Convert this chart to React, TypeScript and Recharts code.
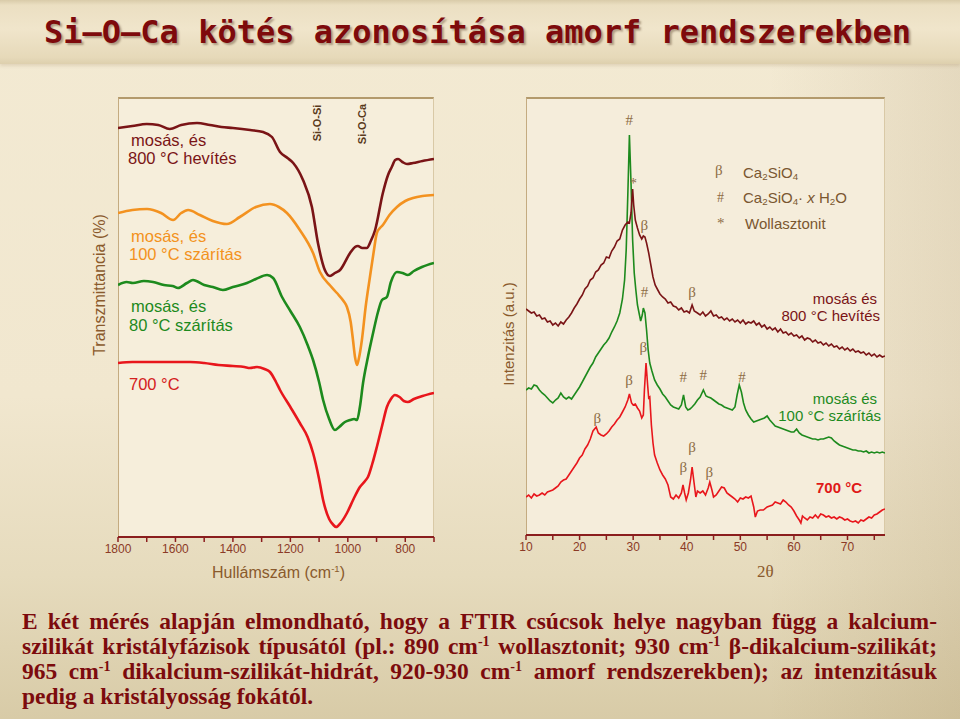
import { LineChart, Line, XAxis, YAxis, ReferenceDot } from 'recharts';

// FTIR spectra: wavenumber (cm-1) vs. transmittance (offset, arbitrary units)
const ftirX = [1800, 1700, 1600, 1500, 1400, 1300, 1200, 1100, 1000, 900, 800, 700];

const ftir800: [number, number][] = [
  [1800, 409], [1750, 411], [1700, 413], [1660, 412], [1620, 408], [1580, 412], [1525, 414],
  [1480, 412], [1440, 410], [1400, 409], [1340, 407], [1295, 405], [1264, 400], [1236, 385],
  [1210, 379], [1190, 374], [1156, 357], [1125, 330], [1104, 294], [1080, 267], [1062, 261],
  [1045, 264], [1027, 267], [992, 284], [975, 290], [965, 291], [950, 289], [934, 289],
  [920, 296], [905, 307], [878, 344], [860, 362], [847, 370], [835, 377], [825, 378],
  [810, 375], [794, 373], [773, 374], [740, 376], [700, 378],
];

const ftir100: [number, number][] = [
  [1800, 324], [1750, 327], [1699, 328], [1650, 324], [1608, 317], [1580, 324], [1556, 327],
  [1515, 322], [1470, 316], [1421, 313], [1376, 320], [1320, 330], [1271, 333], [1240, 330],
  [1212, 324], [1167, 307], [1121, 284], [1097, 265], [1060, 251], [1038, 244], [1015, 236],
  [1003, 230], [990, 215], [982, 197], [975, 180], [968, 172], [962, 178], [951, 197],
  [938, 230], [923, 260], [910, 285], [899, 304], [888, 309], [878, 312], [855, 322],
  [829, 330], [800, 336], [773, 339], [740, 341], [700, 342],
];

const ftir80: [number, number][] = [
  [1800, 252], [1770, 255], [1748, 254], [1710, 256], [1678, 255], [1640, 252], [1610, 251],
  [1591, 249], [1560, 254], [1539, 257], [1500, 252], [1470, 250], [1435, 247], [1400, 250],
  [1351, 254], [1320, 258], [1281, 262], [1260, 259], [1229, 240], [1200, 226], [1167, 210],
  [1140, 192], [1121, 177], [1100, 155], [1086, 137], [1065, 118], [1045, 107], [1030, 110],
  [1010, 115], [992, 117], [978, 118], [968, 117], [958, 130], [947, 154], [930, 180],
  [912, 204], [895, 225], [881, 237], [864, 240], [850, 255], [829, 265], [810, 264],
  [791, 262], [770, 266], [742, 270], [700, 274],
];

const ftir700: [number, number][] = [
  [1800, 174], [1750, 175], [1700, 175], [1650, 175], [1600, 175], [1549, 175], [1500, 174],
  [1450, 172], [1400, 171], [1360, 170], [1341, 169], [1316, 170], [1290, 168], [1271, 165],
  [1250, 155], [1236, 147], [1200, 130], [1167, 114], [1140, 100], [1121, 84], [1100, 58],
  [1086, 37], [1065, 18], [1050, 12], [1041, 10], [1025, 14], [1003, 24], [980, 38],
  [958, 50], [940, 56], [930, 60], [915, 73], [899, 90], [880, 112], [864, 130], [850, 138],
  [836, 142], [820, 140], [805, 136], [791, 135], [770, 138], [740, 141], [700, 144],
];

// XRD patterns: 2theta vs. intensity (offset, arbitrary units)
const xrdX = [10, 15, 20, 25, 30, 35, 40, 45, 50, 55, 60, 65, 70, 75];

const xrd800: [number, number][] = [
  [10, 226], [10.5, 224], [11, 222], [11.5, 223], [12, 219], [12.5, 220], [13, 216], [13.5, 217],
  [14, 213], [14.5, 214], [15, 210], [15.5, 212], [16, 209], [16.5, 213], [17, 211], [17.5, 215],
  [18, 218], [18.5, 222], [19, 227], [19.5, 231], [20, 236], [20.5, 240], [21, 246], [21.5, 249],
  [22, 255], [22.5, 257], [23, 263], [23.5, 265], [24, 270], [24.5, 272], [25, 278], [25.5, 277],
  [26, 284], [26.5, 288], [27, 294], [27.5, 296], [28, 305], [28.5, 310], [29, 313], [29.3, 312],
  [29.6, 322], [29.9, 346], [30.1, 330], [30.4, 315], [30.8, 307], [31.2, 300], [31.6, 296],
  [31.9, 299], [32.2, 298], [32.5, 292], [32.9, 282], [33.3, 270], [33.7, 258], [34.1, 250],
  [34.5, 246], [35, 241], [35.5, 238], [36, 236], [36.5, 232], [37, 233], [37.5, 229], [38, 228],
  [38.5, 225], [39, 227], [39.5, 223], [40, 224], [40.5, 222], [41, 230], [41.4, 224], [42, 222],
  [42.5, 220], [43, 223], [43.5, 219], [44, 221], [44.5, 224], [45, 219], [45.5, 220], [46, 217],
  [46.5, 218], [47, 215], [47.5, 217], [48, 214], [48.5, 216], [49, 213], [49.5, 215], [50, 212],
  [50.5, 215], [51, 211], [51.5, 213], [52, 212], [52.5, 214], [53, 210], [53.5, 212], [54, 208],
  [54.5, 210], [55, 206], [55.5, 208], [56, 205], [56.5, 207], [57, 203], [57.5, 206], [58, 202],
  [58.5, 203], [59, 200], [59.5, 202], [60, 199], [60.5, 200], [61, 197], [61.5, 199], [62, 195],
  [62.5, 197], [63, 196], [63.5, 193], [64, 195], [64.5, 192], [65, 193], [65.5, 190], [66, 192],
  [66.5, 189], [67, 191], [67.5, 188], [68, 189], [68.5, 186], [69, 188], [69.5, 185], [70, 187],
  [70.5, 184], [71, 186], [71.5, 183], [72, 184], [72.5, 182], [73, 183], [73.5, 180], [74, 182],
  [74.5, 179], [75, 181], [75.5, 178], [76, 180], [76.5, 178], [77, 179],
];

const xrd100: [number, number][] = [
  [10, 145], [10.5, 147], [11, 146], [11.5, 150], [12, 149], [12.5, 145], [13, 142], [13.5, 140],
  [14, 137], [14.5, 134], [15, 132], [15.5, 135], [16, 137], [16.5, 142], [17, 138], [17.5, 136],
  [18, 138], [18.5, 136], [19, 140], [19.5, 144], [20, 148], [20.5, 153], [21, 158], [21.5, 163],
  [22, 168], [22.5, 172], [23, 178], [23.5, 182], [24, 186], [24.5, 190], [25, 193], [25.5, 197],
  [26, 203], [26.5, 208], [27, 214], [27.5, 222], [28, 236], [28.4, 255], [28.7, 285], [29, 340],
  [29.3, 400], [29.6, 352], [29.9, 295], [30.2, 262], [30.5, 245], [30.8, 230], [31.1, 222],
  [31.4, 214], [31.7, 220], [31.9, 227], [32.2, 222], [32.5, 205], [32.8, 185], [33.1, 172],
  [33.5, 164], [34, 155], [34.5, 150], [35, 146], [35.5, 141], [36, 138], [36.5, 134], [37, 130],
  [37.5, 128], [38, 127], [38.5, 126], [39, 130], [39.4, 140], [39.8, 128], [40.2, 125],
  [40.6, 126], [41, 128], [41.5, 131], [42, 135], [42.5, 138], [43.1, 145], [43.6, 139], [44, 138],
  [44.5, 137], [45, 135], [45.5, 133], [46, 131], [46.5, 130], [47, 128], [47.5, 127], [48, 126],
  [48.5, 125], [49, 128], [49.4, 140], [49.8, 150], [50.2, 143], [50.6, 132], [51, 125],
  [51.5, 120], [52, 116], [52.5, 113], [53, 114], [53.5, 115], [54, 116], [54.5, 117], [55, 119],
  [55.5, 115], [56, 112], [56.5, 109], [57, 108], [57.5, 107], [58, 106], [58.5, 105], [59, 104],
  [59.5, 103], [60, 103], [60.5, 106], [61, 102], [61.5, 100], [62, 99], [62.5, 98], [63, 97],
  [63.5, 96], [64, 96], [64.5, 95], [65, 96], [65.5, 96], [66, 97], [66.5, 98], [67, 97],
  [67.5, 94], [68, 92], [68.5, 90], [69, 89], [69.5, 88], [70, 87], [70.5, 86], [71, 85],
  [71.5, 85], [72, 84], [72.5, 84], [73, 83], [73.5, 84], [74, 82], [74.5, 83], [75, 82],
  [75.5, 83], [76, 82], [76.5, 83], [77, 82],
];

const xrd700: [number, number][] = [
  [10, 38], [10.5, 40], [11, 37], [11.5, 41], [12, 39], [12.5, 40], [13, 42], [13.5, 40],
  [14, 43], [14.5, 44], [15, 45], [15.5, 47], [16, 49], [16.5, 53], [17, 55], [17.5, 56],
  [18, 60], [18.5, 64], [19, 68], [19.5, 72], [20, 77], [20.5, 80], [21, 86], [21.5, 90],
  [22, 96], [22.5, 104], [23.1, 108], [23.5, 102], [24, 100], [24.5, 99], [25, 101], [25.5, 104],
  [26, 108], [26.5, 111], [27, 115], [27.5, 118], [28, 123], [28.5, 128], [29, 135], [29.3, 141],
  [29.7, 132], [30, 130], [30.4, 131], [30.8, 127], [31.2, 124], [31.6, 117], [31.9, 120],
  [32.1, 145], [32.4, 172], [32.7, 150], [32.9, 137], [33.1, 138], [33.4, 110], [33.7, 92],
  [34, 80], [34.5, 72], [35, 65], [35.5, 60], [36, 56], [36.5, 50], [37, 38], [37.5, 36],
  [38, 40], [38.5, 37], [39, 42], [39.3, 50], [39.6, 42], [39.9, 35], [40.3, 42], [40.7, 55],
  [41, 68], [41.3, 55], [41.7, 38], [42, 44], [42.5, 42], [43, 44], [43.5, 40], [44, 47],
  [44.3, 53], [44.7, 45], [45, 38], [45.5, 40], [46, 44], [46.5, 48], [47, 47], [47.5, 42],
  [48, 40], [48.5, 38], [49, 36], [49.5, 33], [50, 37], [50.5, 36], [51, 38], [51.5, 37],
  [52, 39], [52.5, 28], [52.8, 18], [53.2, 24], [53.7, 25], [54.3, 25], [55, 28], [55.5, 29],
  [56, 30], [56.5, 33], [57, 32], [57.5, 31], [58, 35], [58.5, 33], [59, 30], [59.5, 28],
  [60, 24], [60.5, 19], [61, 15], [61.3, 12], [61.6, 19], [62, 17], [62.5, 15], [63, 18],
  [63.5, 17], [64, 20], [64.5, 17], [65, 21], [65.5, 20], [66, 18], [66.5, 19], [67, 17],
  [67.5, 18], [68, 16], [68.5, 18], [69, 17], [69.5, 15], [70, 16], [70.5, 14], [71, 13],
  [71.5, 14], [72, 12], [72.5, 15], [73, 14], [73.5, 16], [74, 18], [74.5, 17], [75, 20],
  [75.5, 21], [76, 23], [76.5, 25], [77, 26],
];

// peak markers on the XRD patterns: [2theta, intensity, symbol]
const xrdMarks: [number, number, string][] = [
  [29.25, 415, '#'], [30.0, 352, '*'], [32.1, 310, 'β'], [32.1, 243, '#'], [41.0, 243, 'β'],
  [31.9, 188, 'β'], [29.25, 155, 'β'], [39.35, 158, '#'], [43.1, 160, '#'], [50.3, 158, '#'],
  [23.3, 117, 'β'], [41.0, 88, 'β'], [39.35, 68, 'β'], [44.2, 63, 'β'],
];

const toPts = (arr: [number, number][]) => arr.map(([x, y]) => ({ x, y }));

const C_800 = '#7a1416';
const C_100 = '#f39220';
const C_80 = '#1d8a1d';
const C_700 = '#e8161c';
const AXIS = '#8b1e1e';
const BROWN = '#8a5a2c';
const MARK = '#8d6c44';
const SANS = '"Liberation Sans", Arial, sans-serif';
const SERIF = '"Liberation Serif", "Times New Roman", serif';

function Txt({ x, y, color, size = 17, right, bold, children }: any) {
  const style: any = {
    position: 'absolute',
    top: y,
    transform: 'translateY(-50%)',
    color,
    fontSize: size,
    fontFamily: SANS,
    fontWeight: bold ? 'bold' : 'normal',
    whiteSpace: 'nowrap',
    lineHeight: 1,
  };
  if (right) style.right = 960 - x;
  else style.left = x;
  return <div style={style}>{children}</div>;
}

function VTxt({ x, y, color, size, bold, children }: any) {
  return (
    <div
      style={{
        position: 'absolute',
        left: x,
        top: y,
        transform: 'translate(-50%, -50%) rotate(-90deg)',
        color,
        fontSize: size,
        fontFamily: SANS,
        fontWeight: bold ? 'bold' : 'normal',
        whiteSpace: 'nowrap',
        lineHeight: 1,
      }}
    >
      {children}
    </div>
  );
}

const sub = { fontSize: '0.65em', verticalAlign: '-0.3em', lineHeight: 0 };
const sup = { fontSize: '0.6em', verticalAlign: '0.6em', lineHeight: 0 };

const tickStyle = { fontSize: 12, fill: '#8b3a26', fontFamily: SANS };

export default function App() {
  const lineProps = { dataKey: 'y', dot: false, isAnimationActive: false, activeDot: false } as any;
  const bodyLine = {
    textAlign: 'justify' as const,
    textAlignLast: 'justify' as const,
    height: 25,
    lineHeight: '25px',
    overflow: 'hidden',
  };
  return (
    <div
      style={{
        position: 'absolute',
        left: 0,
        top: 0,
        width: 960,
        height: 719,
        overflow: 'hidden',
        background: 'linear-gradient(to bottom, #f3ead3 0%, #f1e7cf 55%, #e6dbbd 80%, #d8cba7 100%)',
      }}
    >
      <div
        style={{
          position: 'absolute', inset: 0,
          background: 'linear-gradient(to right, rgba(0,0,0,0) 80%, rgba(130,100,50,0.12) 100%)',
        }}
      />
      {/* title bar */}
      <div
        style={{
          position: 'absolute', left: 0, top: 0, width: 960, height: 64,
          background: 'linear-gradient(to bottom, #d9cba9 0%, #ebdfc2 8%, #f0e5cb 45%, #e6d9b9 90%, #ddcfad 100%)',
          boxShadow: '0 2px 3px rgba(120,90,40,0.15)',
        }}
      />
      <div
        style={{
          position: 'absolute', left: 0, top: 32, width: 955, textAlign: 'center',
          transform: 'translateY(-50%)',
          fontFamily: '"DejaVu Sans Mono", monospace', fontWeight: 'bold', fontSize: 32,
          color: '#7e0a0c', textShadow: '2px 2px 2px rgba(60,30,10,0.35)', whiteSpace: 'nowrap',
        }}
      >
        Si–O–Ca kötés azonosítása amorf rendszerekben
      </div>

      {/* plot frames */}
      <div
        style={{
          position: 'absolute', left: 118, top: 97, width: 316, height: 440,
          background: '#f6eedb', borderTop: '2px solid #b39a6c', borderLeft: '1.5px solid #c4ab80',
          borderRight: '1px solid #d9c9a6', boxSizing: 'border-box',
        }}
      />
      <div
        style={{
          position: 'absolute', left: 526, top: 97, width: 359, height: 438,
          background: '#f5eddb', borderTop: '2px solid #b39a6c', borderLeft: '1.5px solid #c4ab80',
          borderRight: '1px solid #d9c9a6', boxSizing: 'border-box',
        }}
      />

      {/* FTIR */}
      <div style={{ position: 'absolute', left: 80, top: 80 }}>
        <LineChart width={380} height={520} margin={{ top: 17, left: 38, right: 26, bottom: 23 }}>
          <XAxis
            type="number"
            dataKey="x"
            domain={[700, 1800]}
            reversed
            ticks={ftirX}
            tickFormatter={(v: number) => (v % 200 === 0 ? String(v) : '')}
            height={40}
            axisLine={{ stroke: AXIS, strokeWidth: 2 }}
            tickLine={{ stroke: AXIS, strokeWidth: 1.5 }}
            tickSize={5}
            tick={tickStyle}
            allowDataOverflow
          />
          <YAxis hide type="number" domain={[0, 440]} allowDataOverflow />
          <Line {...lineProps} data={toPts(ftir700)} type="monotone" stroke={C_700} strokeWidth={2.6} />
          <Line {...lineProps} data={toPts(ftir80)} type="monotone" stroke={C_80} strokeWidth={2.6} />
          <Line {...lineProps} data={toPts(ftir100)} type="monotone" stroke={C_100} strokeWidth={2.6} />
          <Line {...lineProps} data={toPts(ftir800)} type="monotone" stroke={C_800} strokeWidth={2.6} />
        </LineChart>
      </div>

      {/* XRD */}
      <div style={{ position: 'absolute', left: 480, top: 80 }}>
        <LineChart width={420} height={518} margin={{ top: 17, left: 46, right: 15, bottom: 23 }}>
          <XAxis
            type="number"
            dataKey="x"
            domain={[10, 77]}
            ticks={xrdX}
            tickFormatter={(v: number) => (v % 10 === 0 ? String(v) : '')}
            height={40}
            axisLine={{ stroke: AXIS, strokeWidth: 2 }}
            tickLine={{ stroke: AXIS, strokeWidth: 1.5 }}
            tickSize={5}
            tick={tickStyle}
            allowDataOverflow
          />
          <YAxis hide type="number" domain={[0, 438]} allowDataOverflow />
          <Line {...lineProps} data={toPts(xrd700)} type="linear" stroke={C_700} strokeWidth={1.6} />
          <Line {...lineProps} data={toPts(xrd100)} type="linear" stroke={C_80} strokeWidth={1.6} />
          <Line {...lineProps} data={toPts(xrd800)} type="linear" stroke={C_800} strokeWidth={1.6} />
          {xrdMarks.map(([x, y, s], i) => (
            <ReferenceDot
              key={i}
              x={x}
              y={y}
              r={0}
              fill="none"
              stroke="none"
              ifOverflow="visible"
              label={{ value: s, position: 'center', fill: MARK, fontSize: 15, fontFamily: SERIF }}
            />
          ))}
        </LineChart>
      </div>

      {/* FTIR annotations */}
      <VTxt x={100} y={285} color={BROWN} size={16}>Transzmittancia (%)</VTxt>
      <VTxt x={317} y={123} color="#5a3a1c" size={11} bold>Si-O-Si</VTxt>
      <VTxt x={362} y={124} color="#5a3a1c" size={11} bold>Si-O-Ca</VTxt>
      <Txt x={131} y={140} color={C_800} size={16.5}>mosás, és</Txt>
      <Txt x={128} y={158} color={C_800} size={16.5}>800 °C hevítés</Txt>
      <Txt x={131} y={236} color={C_100} size={16.5}>mosás, és</Txt>
      <Txt x={129} y={254} color={C_100} size={16.5}>100 °C szárítás</Txt>
      <Txt x={131} y={306} color={C_80} size={16.5}>mosás, és</Txt>
      <Txt x={129} y={325} color={C_80} size={16.5}>80 °C szárítás</Txt>
      <Txt x={129} y={384} color="#d42020" size={16.5}>700 °C</Txt>
      <Txt x={212} y={573} color={BROWN} size={16}>
        Hullámszám (cm<span style={sup}>-1</span>)
      </Txt>

      {/* XRD annotations */}
      <VTxt x={508} y={334} color={BROWN} size={15}>Intenzitás (a.u.)</VTxt>
      <Txt x={757} y={571} color={BROWN} size={17}>
        <span style={{ fontFamily: SERIF }}>2θ</span>
      </Txt>
      <Txt x={715} y={170} color={MARK} size={15}><span style={{ fontFamily: SERIF }}>β</span></Txt>
      <Txt x={743} y={172} color="#7a5730" size={15}>
        Ca<span style={sub}>2</span>SiO<span style={sub}>4</span>
      </Txt>
      <Txt x={717} y={197} color={MARK} size={14}><span style={{ fontFamily: SERIF }}>#</span></Txt>
      <Txt x={743} y={197} color="#7a5730" size={15}>
        Ca<span style={sub}>2</span>SiO<span style={sub}>4</span>· <i>x</i> H<span style={sub}>2</span>O
      </Txt>
      <Txt x={717} y={223} color={MARK} size={15}><span style={{ fontFamily: SERIF }}>*</span></Txt>
      <Txt x={745} y={223} color="#7a5730" size={15}>Wollasztonit</Txt>
      <Txt x={877} y={298} right color={C_800} size={15}>mosás és</Txt>
      <Txt x={880} y={315} right color={C_800} size={15}>800 °C hevítés</Txt>
      <Txt x={877} y={398} right color={C_80} size={15}>mosás és</Txt>
      <Txt x={881} y={415} right color={C_80} size={15}>100 °C szárítás</Txt>
      <Txt x={862} y={487} right color="#e01818" size={15} bold>700 °C</Txt>

      {/* text below */}
      <div
        style={{
          position: 'absolute', left: 22, top: 609, width: 915,
          fontFamily: SERIF, fontWeight: 'bold', fontSize: 23.5, lineHeight: '25px', color: '#7c0b0d',
        }}
      >
        <div style={bodyLine}>E két mérés alapján elmondható, hogy a FTIR csúcsok helye nagyban függ a kalcium-</div>
        <div style={bodyLine}>
          szilikát kristályfázisok típusától (pl.: 890 cm<span style={sup}>-1</span> wollasztonit; 930 cm
          <span style={sup}>-1</span> β-dikalcium-szilikát;
        </div>
        <div style={bodyLine}>
          965 cm<span style={sup}>-1</span> dikalcium-szilikát-hidrát, 920-930 cm<span style={sup}>-1</span> amorf
          rendszerekben); az intenzitásuk
        </div>
        <div style={{ height: 25, lineHeight: '25px' }}>pedig a kristályosság fokától.</div>
      </div>
    </div>
  );
}
